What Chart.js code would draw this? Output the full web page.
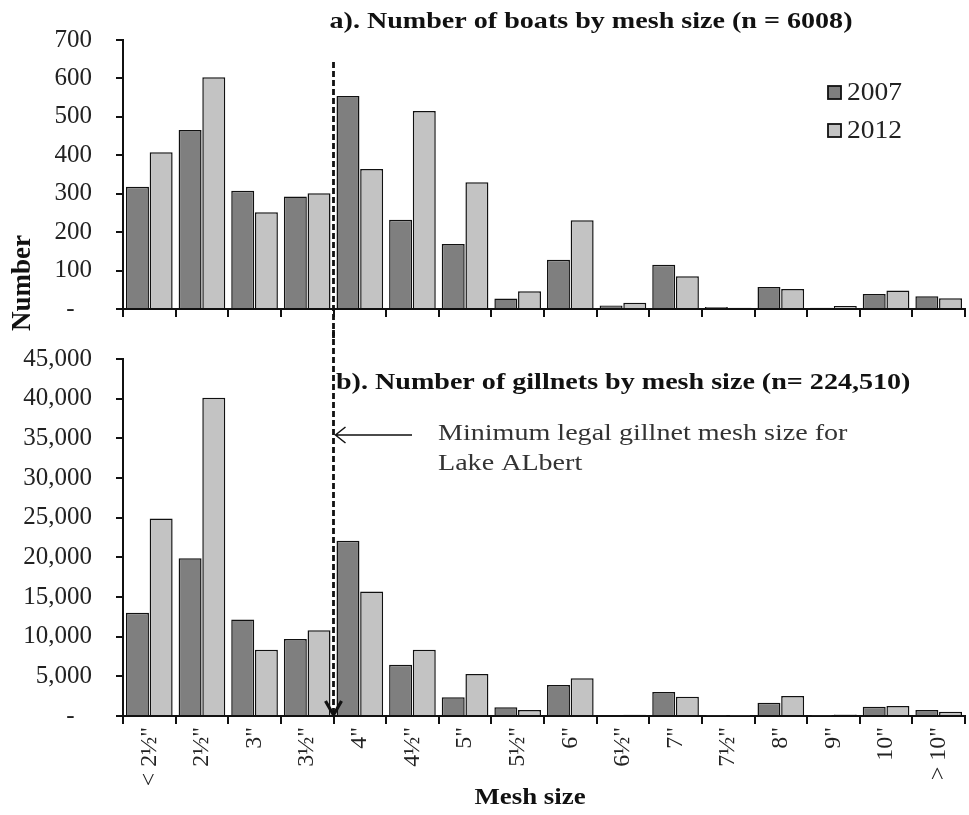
<!DOCTYPE html>
<html>
<head>
<meta charset="utf-8">
<script src="https://cdn.jsdelivr.net/npm/chart.js@4.4.1/dist/chart.umd.min.js"></script>
<style>
  body { margin: 0; background: #fff; }
  #wrap { position: relative; width: 969px; height: 815px; }
  #boatsBox { position: absolute; left: 0; top: 0; width: 969px; height: 340px; z-index: 2; }
  #netsBox { position: absolute; left: 0; top: 330px; width: 969px; height: 485px; z-index: 1; }
</style>
</head>
<body>
<div id="wrap">
  <div id="netsBox"><canvas id="netsChart"></canvas></div>
  <div id="boatsBox"><canvas id="boatsChart"></canvas></div>
</div>
<script>
// categories (mesh size)
const meshSizes = ['< 2½"', '2½"', '3"', '3½"', '4"', '4½"', '5"', '5½"', '6"', '6½"', '7"', '7½"', '8"', '9"', '10"', '> 10"'];
const years = ['2007', '2012'];

// a) number of boats
const boats2007 = [318, 466, 308, 293, 554, 232, 169, 27, 128, 9, 115, 5, 57, 3, 39, 33];
const boats2012 = [408, 603, 252, 301, 364, 515, 330, 46, 231, 16, 85, 3, 52, 8, 48, 28];

// b) number of gillnets
const nets2007 = [13000, 19900, 12150, 9700, 22100, 6450, 2370, 1100, 3900, 100, 3040, 50, 1680, 50, 1180, 760];
const nets2012 = [24900, 40100, 8350, 10800, 15700, 8350, 5300, 760, 4770, 150, 2440, 50, 2530, 200, 1270, 550];

const boatTicks = { max: 700, step: 100 };
const netTicks = { max: 45000, step: 5000 };

const darkGrey = '#7f7f7f';
const lightGrey = '#c3c3c3';
const serif = '"Liberation Serif", "DejaVu Serif", serif';

// position of the legal minimum line: between 3½" and 4"
const legalLimit = 3.5;

function barSets(a, b) {
    return [
        { label: years[0], data: a, backgroundColor: darkGrey, borderColor: '#111', borderWidth: 1.5,
          categoryPercentage: 0.9, barPercentage: 0.97 },
        { label: years[1], data: b, backgroundColor: lightGrey, borderColor: '#111', borderWidth: 1.5,
          categoryPercentage: 0.9, barPercentage: 0.97 }
    ];
}

function tickLabel(v) {
    if (v === 0) return '-\u2002\u2009';
    return v.toLocaleString('en-US');
}

function makeOptions(ticks, xHeight, padTop, showLabels) {
    return {
        responsive: true,
        maintainAspectRatio: false,
        animation: false,
        layout: { padding: { top: padTop, right: 4, left: 0, bottom: 0 } },
        plugins: { legend: { display: false }, tooltip: { enabled: false } },
        scales: {
            x: {
                grid: { drawOnChartArea: false, drawTicks: true, tickLength: 8, color: '#111', lineWidth: 2 },
                border: { display: true, color: '#111', width: 2 },
                ticks: {
                    display: showLabels, autoSkip: false, minRotation: 90, maxRotation: 90,
                    color: '#222', padding: 3, font: { family: serif, size: 24 }
                },
                afterFit(axis) { axis.height = xHeight; axis.paddingLeft = 0; axis.paddingRight = 0; }
            },
            y: {
                min: 0, max: ticks.max,
                grid: { drawOnChartArea: false, drawTicks: true, tickLength: 7, color: '#111', lineWidth: 2 },
                border: { display: true, color: '#111', width: 2 },
                ticks: {
                    stepSize: ticks.step, color: '#222', padding: 24,
                    font: { family: serif, size: 25 }, callback: tickLabel
                },
                afterFit(axis) { axis.width = 123; axis.paddingTop = 0; axis.paddingBottom = 0; }
            }
        }
    };
}

// the original figure is a bit wider than tall, so its text looks stretched
function wideText(ctx, text, x, y, align, sx) {
    ctx.save();
    ctx.translate(x, y);
    ctx.scale(sx, 1);
    ctx.textAlign = align;
    ctx.fillText(text, 0, 0);
    ctx.restore();
}

function dashedLine(ctx, x, y1, y2) {
    ctx.save();
    ctx.strokeStyle = '#111';
    ctx.lineWidth = 2.8;
    ctx.setLineDash([6, 3]);
    ctx.beginPath();
    ctx.moveTo(x, y1);
    ctx.lineTo(x, y2);
    ctx.stroke();
    ctx.restore();
}

// annotations of panel a
const boatsDecor = {
    id: 'boatsDecor',
    afterDraw(chart) {
        const ctx = chart.ctx;
        const x = chart.scales.x.getPixelForValue(legalLimit);
        dashedLine(ctx, x, 62, chart.height);

        ctx.save();
        ctx.fillStyle = '#111';
        ctx.textBaseline = 'middle';
        ctx.font = 'bold 24px ' + serif;
        wideText(ctx, 'a). Number of boats by mesh size (n = 6008)', 591, 22, 'center', 1.17);

        // legend
        ctx.font = '25px ' + serif;
        chart.data.datasets.forEach((ds, i) => {
            const y = 92 + i * 38;
            ctx.fillStyle = ds.backgroundColor;
            ctx.fillRect(828, y - 6, 13, 13);
            ctx.strokeStyle = '#111';
            ctx.lineWidth = 1.8;
            ctx.strokeRect(828, y - 6, 13, 13);
            ctx.fillStyle = '#222';
            wideText(ctx, ds.label, 847, y + 1, 'left', 1.1);
        });

        // shared y title
        ctx.translate(23, 283);
        ctx.rotate(-Math.PI / 2);
        ctx.textAlign = 'center';
        ctx.fillStyle = '#111';
        ctx.font = 'bold 27px ' + serif;
        ctx.fillText('Number', 0, 0);
        ctx.restore();
    }
};

// annotations of panel b
const netsDecor = {
    id: 'netsDecor',
    afterDraw(chart) {
        const ctx = chart.ctx;
        const x = chart.scales.x.getPixelForValue(legalLimit);
        const yb = chart.chartArea.bottom;
        dashedLine(ctx, x, 0, yb - 3);

        ctx.save();
        ctx.strokeStyle = '#111';
        ctx.lineWidth = 3.2;
        ctx.beginPath();
        ctx.moveTo(x - 8, yb - 15);
        ctx.lineTo(x, yb - 1);
        ctx.lineTo(x + 8, yb - 15);
        ctx.stroke();

        // arrow pointing at the line
        const ya = 105;
        ctx.lineWidth = 1.5;
        ctx.beginPath();
        ctx.moveTo(412, ya);
        ctx.lineTo(x + 2, ya);
        ctx.moveTo(x + 12, ya - 8);
        ctx.lineTo(x + 2, ya);
        ctx.lineTo(x + 12, ya + 8);
        ctx.stroke();

        ctx.fillStyle = '#111';
        ctx.textBaseline = 'middle';
        ctx.font = 'bold 24px ' + serif;
        wideText(ctx, 'b). Number of gillnets by mesh size (n= 224,510)', 336, 53, 'left', 1.17);

        ctx.fillStyle = '#333';
        ctx.font = '24px ' + serif;
        wideText(ctx, 'Minimum legal gillnet mesh size for', 438, 104, 'left', 1.17);
        wideText(ctx, 'Lake ALbert', 438, 134, 'left', 1.17);

        ctx.fillStyle = '#111';
        ctx.font = 'bold 24px ' + serif;
        wideText(ctx, 'Mesh size', 530, 468, 'center', 1.12);
        ctx.restore();
    }
};

new Chart(document.getElementById('boatsChart'), {
    type: 'bar',
    data: { labels: meshSizes, datasets: barSets(boats2007, boats2012) },
    options: makeOptions(boatTicks, 31, 40, false),
    plugins: [boatsDecor]
});

new Chart(document.getElementById('netsChart'), {
    type: 'bar',
    data: { labels: meshSizes, datasets: barSets(nets2007, nets2012) },
    options: makeOptions(netTicks, 99, 29, true),
    plugins: [netsDecor]
});
</script>
</body>
</html>
